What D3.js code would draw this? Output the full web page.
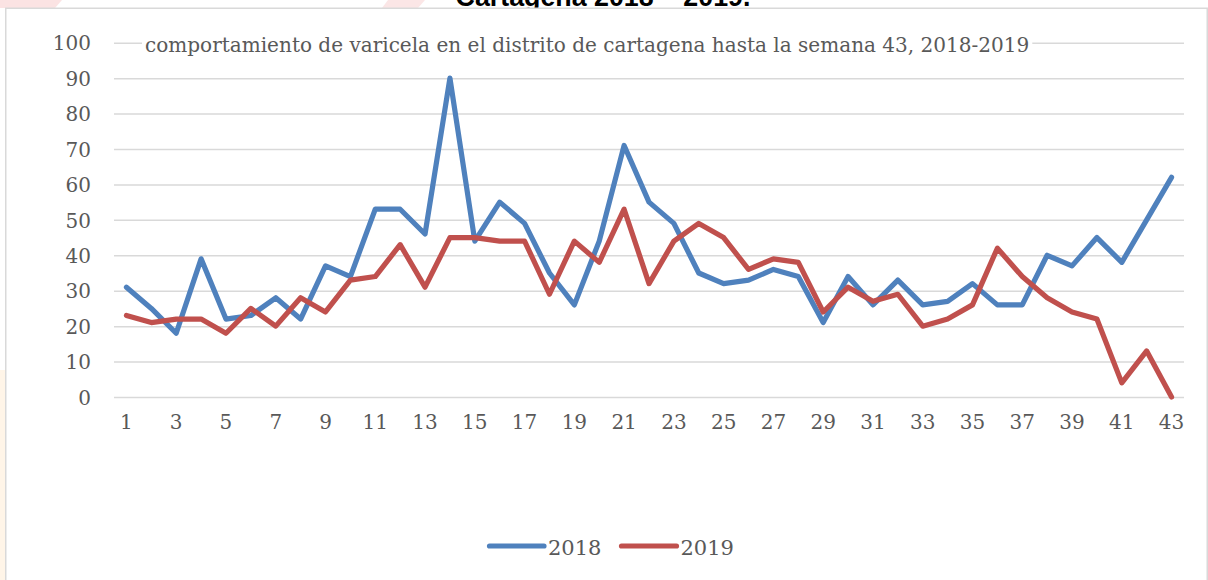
<!DOCTYPE html>
<html>
<head>
<meta charset="utf-8">
<script src="https://cdn.jsdelivr.net/npm/d3@7"></script>
<style>
  html, body { margin: 0; padding: 0; background: #fff; }
  svg { display: block; }
</style>
</head>
<body>
<svg id="chart" width="1208" height="580"></svg>
<script>
const weeks = d3.range(1, 44);
const values2018 = [31,25,18,39,22,23,28,22,37,34,53,53,46,90,44,55,49,35,26,44,71,55,49,35,32,33,36,34,21,34,26,33,26,27,32,26,26,40,37,45,38,50,62];
const values2019 = [23,21,22,22,18,25,20,28,24,33,34,43,31,45,45,44,44,29,44,38,53,32,44,49,45,36,39,38,24,31,27,29,20,22,26,42,34,28,24,22,4,13,0];
const seriesNames = ["2018", "2019"];
const seriesColors = ["#4F81BD", "#C0504D"];
const yTicks = [0,10,20,30,40,50,60,70,80,90,100];
const xTickLabels = weeks.filter(w => w % 2 === 1);
const titleText = "Cartagena 2018 – 2019.";
const subtitleText = "comportamiento de varicela en el distrito de cartagena hasta la semana 43, 2018-2019";

const svg = d3.select("#chart");
const serif = "'DejaVu Serif', serif";
const textColor = "#595959";

// faint page watermark outside the chart box
svg.append("path").attr("d", "M0,0 L62,0 L55,8 L0,8 Z").attr("fill", "#FBE3E3");
svg.append("path").attr("d", "M388,0 L425,0 L418,8 L382,8 Z").attr("fill", "#FBE6E6");
svg.append("rect").attr("x", 0).attr("y", 370).attr("width", 5).attr("height", 210).attr("fill", "#FFF5E8");

// page title (mostly hidden above chart box, as in the source document)
const title = svg.append("text").attr("x", 603).attr("y", 6).attr("text-anchor", "middle")
  .attr("font-family", "'Liberation Sans', Arial, sans-serif").attr("font-weight", "bold")
  .attr("font-size", 22).attr("fill", "#000").text(titleText);
const tw = title.node().getComputedTextLength();
title.attr("font-size", 22 * 295 / tw);

// chart box
svg.append("rect").attr("x", 5.75).attr("y", 8.25).attr("width", 1201.5).attr("height", 580)
  .attr("fill", "#fff").attr("stroke", "#D9D9D9").attr("stroke-width", 1.5);

const plot = { left: 114, right: 1184, top: 42.7, bottom: 397 };

const x = d3.scaleBand().domain(weeks).range([plot.left, plot.right]);
const y = d3.scaleLinear().domain([0, 100]).range([plot.bottom, plot.top]);
const cx = w => x(w) + x.bandwidth() / 2;

// gridlines + y labels via axis
const yAxis = d3.axisLeft(y).tickValues(yTicks).tickSize(-(plot.right - plot.left)).tickPadding(23);
const gy = svg.append("g").attr("transform", `translate(${plot.left},0)`).call(yAxis);
gy.select(".domain").remove();
gy.selectAll(".tick line").attr("stroke", "#D9D9D9").attr("stroke-width", 1.5);
gy.selectAll(".tick text").attr("font-family", serif).attr("font-size", 20).attr("fill", textColor).attr("dy", "0.36em");

// x axis labels
const xAxis = d3.axisBottom(x).tickValues(xTickLabels).tickSize(0).tickPadding(20);
const gx = svg.append("g").attr("transform", `translate(0,${plot.bottom})`).call(xAxis);
gx.select(".domain").remove();
gx.selectAll(".tick text").attr("font-family", serif).attr("font-size", 20).attr("fill", textColor).attr("dy", "0.6em");

// subtitle with white background
const sub = svg.append("text").attr("x", 145).attr("y", 51.7)
  .attr("font-family", serif).attr("font-size", 18).attr("fill", textColor).text(subtitleText);
let w = sub.node().getComputedTextLength();
sub.attr("font-size", 18 * 885 / w);
w = sub.node().getComputedTextLength();
svg.insert("rect", function() { return sub.node(); })
  .attr("x", 142).attr("y", 30).attr("width", w + 6).attr("height", 26).attr("fill", "#fff");

// lines
const line = d3.line().x((d, i) => cx(weeks[i])).y(d => y(d));
[values2018, values2019].forEach((vals, k) => {
  svg.append("path").datum(vals).attr("d", line)
    .attr("fill", "none").attr("stroke", seriesColors[k]).attr("stroke-width", 5.2)
    .attr("stroke-linejoin", "round").attr("stroke-linecap", "round");
});

// legend
const legendItems = [{ x1: 489.5, x2: 544, tx: 548 }, { x1: 621.5, x2: 676.5, tx: 680.5 }];
legendItems.forEach((it, k) => {
  svg.append("line").attr("x1", it.x1).attr("x2", it.x2).attr("y1", 546).attr("y2", 546)
    .attr("stroke", seriesColors[k]).attr("stroke-width", 5.2).attr("stroke-linecap", "round");
  svg.append("text").attr("x", it.tx).attr("y", 555).attr("font-family", serif).attr("font-size", 21)
    .attr("fill", textColor).text(seriesNames[k]);
});
</script>
</body>
</html>
